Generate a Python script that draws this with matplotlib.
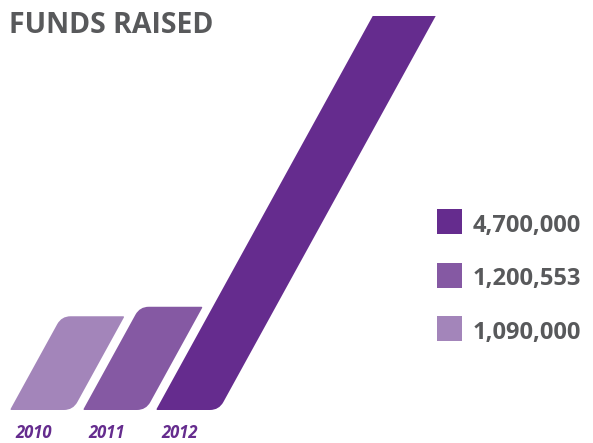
import matplotlib
matplotlib.use("Agg")
import matplotlib.pyplot as plt
import numpy as np
from matplotlib.path import Path
from matplotlib.patches import PathPatch, Rectangle
from matplotlib.transforms import blended_transform_factory

# ---- data ----
years = ["2010", "2011", "2012"]
funds = [1090000, 1200553, 4700000]
legend_labels = ["4,700,000", "1,200,553", "1,090,000"]
colors = ["#a385ba", "#8559a3", "#652c8e"]
title = "FUNDS RAISED"

W, H = 593, 443
fig = plt.figure(figsize=(W / 100, H / 100), dpi=100)
fig.patch.set_facecolor("white")

FONT = ["Open Sans", "DejaVu Sans"]
GREY = "#58595b"

def fx(px):
    return px / W

def fy(py):
    return 1 - py / H

# axes: bottom at pixel row 410, top at pixel row 16, full width
ax = fig.add_axes([0, fy(410), 1, (410 - 16) / H])
ax.set_axis_off()
PX_PER_M = 86.0
ax.set_ylim(0, (410 - 16) / PX_PER_M * 1e6)
PITCH = 73.0
x_left = -41.5 / PITCH
ax.set_xlim(x_left, x_left + W / PITCH)

BAR_W = 63.0 / PITCH  # width in data units
SLANT = 0.55          # horizontal px per vertical px
R_OBT = 9.0
R_ACU = 1.5

def rounded_poly(pts, radii):
    n = len(pts)
    verts, codes = [], []
    for k in range(n):
        p = np.array(pts[k], float)
        prv = np.array(pts[k - 1], float)
        nxt = np.array(pts[(k + 1) % n], float)
        r = radii[k]
        a = p + r * (prv - p) / np.linalg.norm(prv - p)
        b = p + r * (nxt - p) / np.linalg.norm(nxt - p)
        if k == 0:
            verts.append(a); codes.append(Path.MOVETO)
        else:
            verts.append(a); codes.append(Path.LINETO)
        verts.extend([p, b]); codes.extend([Path.CURVE3, Path.CURVE3])
    verts.append(verts[0]); codes.append(Path.CLOSEPOLY)
    return np.array(verts), codes

for i, (v, c) in enumerate(zip(funds, colors)):
    (x0, y0), (x1, y1) = ax.transData.transform([(i - BAR_W / 2, 0), (i + BAR_W / 2, v)])
    dy = y1 - y0
    dx = SLANT * dy
    pts = [(x0, y0), (x1, y0), (x1 + dx, y1), (x0 + dx, y1)]
    verts, codes = rounded_poly(pts, [R_ACU, R_OBT, R_ACU, R_OBT])
    dverts = ax.transData.inverted().transform(verts)
    ax.add_patch(PathPatch(Path(dverts, codes), facecolor=c, edgecolor="none"))

# year labels
trans = blended_transform_factory(ax.transData, fig.transFigure)
for i, yr in enumerate(years):
    ax.text(i - 8 / PITCH, fy(438.5), yr, transform=trans, ha="center", va="baseline",
            fontsize=12, fontweight="bold", fontstyle="italic", color="#652c8e",
            family=FONT)

# title
fig.text(fx(9), fy(33), title, ha="left", va="baseline", fontsize=20.5,
         fontweight="bold", color=GREY, family=FONT)

# legend (largest first)
for j, (lab, c) in enumerate(zip(legend_labels, colors[::-1])):
    top = 209 + 53.5 * j
    fig.add_artist(Rectangle((fx(437), fy(top + 25)), 25 / W, 25 / H,
                             transform=fig.transFigure, facecolor=c, edgecolor="none"))
    fig.text(fx(473), fy(top + 23), lab, ha="left", va="baseline", fontsize=17,
             fontweight="bold", color=GREY, family=FONT)

fig.savefig("out.png", dpi=100, facecolor="white")
